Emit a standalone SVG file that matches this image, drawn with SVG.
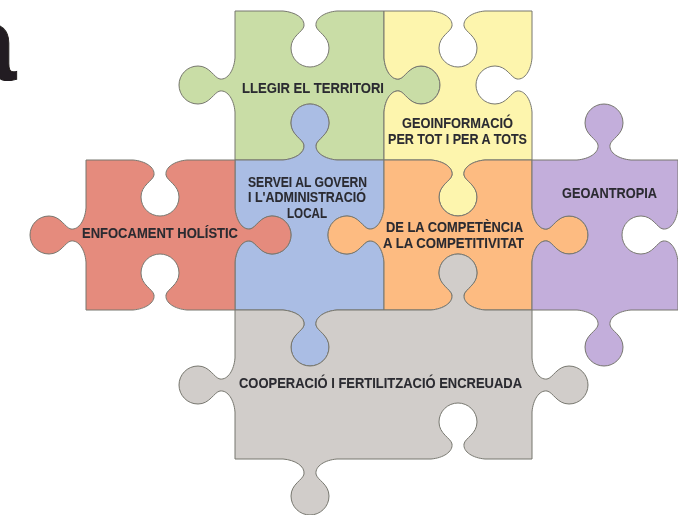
<svg xmlns="http://www.w3.org/2000/svg" width="699" height="517" viewBox="0 0 699 517">
<style>
.p{stroke:#77776f;stroke-width:1;stroke-linejoin:round}
.t{font-family:"Liberation Sans",Arial,sans-serif;font-weight:700;font-size:15.5px;fill:#2b2b30;stroke:#2b2b30;stroke-width:.1}
</style>
<defs><filter id="soft" x="0" y="0" width="1" height="1" filterUnits="objectBoundingBox"><feGaussianBlur stdDeviation="0.5"/></filter></defs>
<rect width="699" height="517" fill="#ffffff"/>
<g filter="url(#soft)">
<text id="letter" x="-43" y="80" font-family="'Liberation Sans',Arial,sans-serif" font-weight="700" font-size="106" fill="#231f20" stroke="#231f20" stroke-width="1">a</text>
<g id="green">
<path class="p" fill="#c9dda6" d="M235,11H283c12,1 22,7 21,15c-1,6 -13,10 -13,22c0,11 9,19 19,19c10,0 19,-8 19,-19c0,-12 -12,-16 -13,-22c-1,-8 9,-14 21,-15H384V58c1,12 7,22 15,21c6,-1 10,-13 22,-13c11,0 19,9 19,19c0,10 -8,19 -19,19c-12,0 -16,-12 -22,-13c-8,-1 -14,9 -15,21V160H337c-12,-1 -22,-7 -21,-15c1,-6 13,-10 13,-22c0,-11 -9,-19 -19,-19c-10,0 -19,8 -19,19c0,12 12,16 13,22c1,8 -9,14 -21,15H235V112c-1,-12 -7,-22 -15,-21c-6,1 -10,13 -22,13c-11,0 -19,-9 -19,-19c0,-10 8,-19 19,-19c12,0 16,12 22,13c8,1 14,-9 15,-21Z"/>
<text class="t" x="242" y="93" textLength="142" lengthAdjust="spacingAndGlyphs">LLEGIR EL TERRITORI</text>
</g>
<g id="yellow">
<path class="p" fill="#fdf5ad" d="M384,11H431c12,1 22,7 21,15c-1,6 -13,10 -13,22c0,11 9,19 19,19c10,0 19,-8 19,-19c0,-12 -12,-16 -13,-22c-1,-8 9,-14 21,-15H532V58c-1,12 -7,22 -15,21c-6,-1 -10,-13 -22,-13c-11,0 -19,9 -19,19c0,10 8,19 19,19c12,0 16,-12 22,-13c8,-1 14,9 15,21V160H485c-12,1 -22,7 -21,15c1,6 13,10 13,22c0,11 -9,19 -19,19c-10,0 -19,-8 -19,-19c0,-12 12,-16 13,-22c1,-8 -9,-14 -21,-15H384V112c1,-12 7,-22 15,-21c6,1 10,13 22,13c11,0 19,-9 19,-19c0,-10 -8,-19 -19,-19c-12,0 -16,12 -22,13c-8,1 -14,-9 -15,-21Z"/>
<text class="t" x="402" y="128" textLength="111" lengthAdjust="spacingAndGlyphs">GEOINFORMACIÓ</text>
<text class="t" x="388" y="144" textLength="139" lengthAdjust="spacingAndGlyphs">PER TOT I PER A TOTS</text>
</g>
<g id="blue">
<path class="p" fill="#aabde4" d="M235,160H283c12,-1 22,-7 21,-15c-1,-6 -13,-10 -13,-22c0,-11 9,-19 19,-19c10,0 19,8 19,19c0,12 -12,16 -13,22c-1,8 9,14 21,15H384V208c-1,12 -7,22 -15,21c-6,-1 -10,-13 -22,-13c-11,0 -19,9 -19,19c0,10 8,19 19,19c12,0 16,-12 22,-13c8,-1 14,9 15,21V310H337c-12,1 -22,7 -21,15c1,6 13,10 13,22c0,11 -9,19 -19,19c-10,0 -19,-8 -19,-19c0,-12 12,-16 13,-22c1,-8 -9,-14 -21,-15H235V262c1,-12 7,-22 15,-21c6,1 10,13 22,13c11,0 19,-9 19,-19c0,-10 -8,-19 -19,-19c-12,0 -16,12 -22,13c-8,1 -14,-9 -15,-21Z"/>
<text class="t" x="248" y="187" textLength="119" lengthAdjust="spacingAndGlyphs">SERVEI AL GOVERN</text>
<text class="t" x="248" y="202" textLength="118" lengthAdjust="spacingAndGlyphs">I L'ADMINISTRACIÓ</text>
<text class="t" x="287" y="218" textLength="40" lengthAdjust="spacingAndGlyphs">LOCAL</text>
</g>
<g id="red">
<path class="p" fill="#e58b7d" d="M86,160H133c12,1 22,7 21,15c-1,6 -13,10 -13,22c0,11 9,19 19,19c10,0 19,-8 19,-19c0,-12 -12,-16 -13,-22c-1,-8 9,-14 21,-15H235V208c1,12 7,22 15,21c6,-1 10,-13 22,-13c11,0 19,9 19,19c0,10 -8,19 -19,19c-12,0 -16,-12 -22,-13c-8,-1 -14,9 -15,21V310H187c-12,-1 -22,-7 -21,-15c1,-6 13,-10 13,-22c0,-11 -9,-19 -19,-19c-10,0 -19,8 -19,19c0,12 12,16 13,22c1,8 -9,14 -21,15H86V262c-1,-12 -7,-22 -15,-21c-6,1 -10,13 -22,13c-11,0 -19,-9 -19,-19c0,-10 8,-19 19,-19c12,0 16,12 22,13c8,1 14,-9 15,-21Z"/>
<text class="t" x="82" y="238" textLength="156" lengthAdjust="spacingAndGlyphs">ENFOCAMENT HOLÍSTIC</text>
</g>
<g id="orange">
<path class="p" fill="#fdbb81" d="M384,160H431c12,1 22,7 21,15c-1,6 -13,10 -13,22c0,11 9,19 19,19c10,0 19,-8 19,-19c0,-12 -12,-16 -13,-22c-1,-8 9,-14 21,-15H532V208c1,12 7,22 15,21c6,-1 10,-13 22,-13c11,0 19,9 19,19c0,10 -8,19 -19,19c-12,0 -16,-12 -22,-13c-8,-1 -14,9 -15,21V310H485c-12,-1 -22,-7 -21,-15c1,-6 13,-10 13,-22c0,-11 -9,-19 -19,-19c-10,0 -19,8 -19,19c0,12 12,16 13,22c1,8 -9,14 -21,15H384V262c-1,-12 -7,-22 -15,-21c-6,1 -10,13 -22,13c-11,0 -19,-9 -19,-19c0,-10 8,-19 19,-19c12,0 16,12 22,13c8,1 14,-9 15,-21Z"/>
<text class="t" x="386" y="232" textLength="137" lengthAdjust="spacingAndGlyphs">DE LA COMPETÈNCIA</text>
<text class="t" x="383" y="248" textLength="141" lengthAdjust="spacingAndGlyphs">A LA COMPETITIVITAT</text>
</g>
<g id="purple">
<path class="p" fill="#c3aedb" d="M532,160H577c12,-1 22,-7 21,-15c-1,-6 -13,-10 -13,-22c0,-11 9,-19 19,-19c10,0 19,8 19,19c0,12 -12,16 -13,22c-1,8 9,14 21,15H678V208c-1,12 -7,22 -15,21c-6,-1 -10,-13 -22,-13c-11,0 -19,9 -19,19c0,10 8,19 19,19c12,0 16,-12 22,-13c8,-1 14,9 15,21V310H631c-12,1 -22,7 -21,15c1,6 13,10 13,22c0,11 -9,19 -19,19c-10,0 -19,-8 -19,-19c0,-12 12,-16 13,-22c1,-8 -9,-14 -21,-15H532V262c1,-12 7,-22 15,-21c6,1 10,13 22,13c11,0 19,-9 19,-19c0,-10 -8,-19 -19,-19c-12,0 -16,12 -22,13c-8,1 -14,-9 -15,-21Z"/>
<text class="t" x="562" y="198" textLength="95" lengthAdjust="spacingAndGlyphs">GEOANTROPIA</text>
</g>
<g id="grey">
<path class="p" fill="#d1cdca" d="M235,310H283c12,1 22,7 21,15c-1,6 -13,10 -13,22c0,11 9,19 19,19c10,0 19,-8 19,-19c0,-12 -12,-16 -13,-22c-1,-8 9,-14 21,-15H431c12,-1 22,-7 21,-15c-1,-6 -13,-10 -13,-22c0,-11 9,-19 19,-19c10,0 19,8 19,19c0,12 -12,16 -13,22c-1,8 9,14 21,15H532V358c1,12 7,22 15,21c6,-1 10,-13 22,-13c11,0 19,9 19,19c0,10 -8,19 -19,19c-12,0 -16,-12 -22,-13c-8,-1 -14,9 -15,21V459H485c-12,-1 -22,-7 -21,-15c1,-6 13,-10 13,-22c0,-11 -9,-19 -19,-19c-10,0 -19,8 -19,19c0,12 12,16 13,22c1,8 -9,14 -21,15H337c-12,1 -22,7 -21,15c1,6 13,10 13,22c0,11 -9,19 -19,19c-10,0 -19,-8 -19,-19c0,-12 12,-16 13,-22c1,-8 -9,-14 -21,-15H235V412c-1,-12 -7,-22 -15,-21c-6,1 -10,13 -22,13c-11,0 -19,-9 -19,-19c0,-10 8,-19 19,-19c12,0 16,12 22,13c8,1 14,-9 15,-21Z"/>
<text class="t" x="239" y="388" textLength="283" lengthAdjust="spacingAndGlyphs">COOPERACIÓ I FERTILITZACIÓ ENCREUADA</text>
</g>
</g>
</svg>
